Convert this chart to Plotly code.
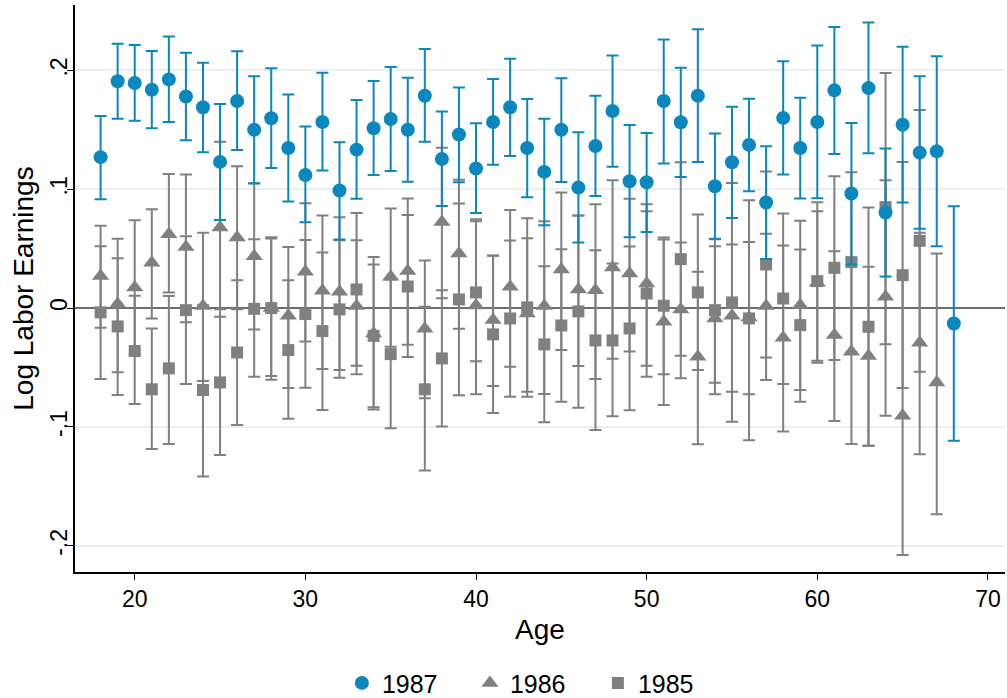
import plotly.graph_objects as go

# --- data (point estimate, lower CI, upper CI) ---
ages_1987 = list(range(18, 69))
est_1987 = [0.127, 0.1908, 0.1894, 0.1837, 0.1924, 0.178, 0.169, 0.123, 0.1742, 0.150,
            0.1597, 0.1347, 0.112, 0.1566, 0.0989, 0.1333, 0.1513, 0.1591, 0.150, 0.1787,
            0.1255, 0.146, 0.1174, 0.1566, 0.169, 0.1347, 0.1146, 0.150, 0.1014, 0.1364,
            0.1658, 0.1067, 0.1059, 0.1742, 0.1563, 0.1787, 0.1025, 0.1227, 0.1373, 0.0888,
            0.160, 0.1347, 0.1566, 0.1832, 0.0964, 0.1851, 0.0804, 0.1543, 0.1308, 0.1319,
            -0.0129]
lo_1987 = [0.0916, 0.1594, 0.1577, 0.1513, 0.1566, 0.1412, 0.1311, 0.0742, 0.133, 0.1048,
           0.1179, 0.0897, 0.0723, 0.1157, 0.0577, 0.0919, 0.112, 0.1154, 0.1064, 0.140,
           0.086, 0.1059, 0.080, 0.1207, 0.128, 0.0933, 0.0697, 0.1062, 0.0552, 0.0944,
           0.119, 0.0597, 0.0641, 0.1216, 0.1104, 0.123, 0.0583, 0.0759, 0.0983, 0.0414,
           0.1123, 0.0922, 0.0924, 0.1297, 0.0367, 0.1303, 0.0266, 0.0888, 0.0667, 0.0521,
           -0.1115]
hi_1987 = [0.1616, 0.2224, 0.2213, 0.2163, 0.2286, 0.2148, 0.2064, 0.1717, 0.216, 0.195,
           0.2017, 0.1798, 0.1527, 0.198, 0.1395, 0.175, 0.191, 0.2028, 0.1938, 0.2179,
           0.1655, 0.1855, 0.1555, 0.1927, 0.2098, 0.1759, 0.1594, 0.1933, 0.1479, 0.1787,
           0.2126, 0.154, 0.1474, 0.226, 0.2022, 0.2345, 0.147, 0.1695, 0.1762, 0.1361,
           0.2076, 0.177, 0.221, 0.2364, 0.1557, 0.2403, 0.1342, 0.2199, 0.195, 0.2118,
           0.0857]

ages_1986 = list(range(18, 68))
est_1986 = [0.027, 0.0034, 0.0174, 0.0381, 0.0622, 0.0515, 0.0017, 0.0678, 0.0594, 0.0437,
            0.0, -0.0064, 0.0305, 0.0146, 0.0137, 0.0017, -0.0213, 0.0263, 0.0313, -0.0174,
            0.0725, 0.046, 0.0022, -0.0101, 0.0179, -0.0045, 0.0017, 0.0325, 0.0157, 0.0151,
            0.0342, 0.0291, 0.0207, -0.0115, -0.0011, -0.0409, -0.0087, -0.0064, -0.008, 0.0017,
            -0.025, 0.0025, 0.0213, -0.0227, -0.0367, -0.0403, 0.0095, -0.0905, -0.0291, -0.0625]
lo_1986 = [-0.0165, -0.054, -0.039, -0.0087, 0.0132, -0.0118, -0.0613, -0.0073, -0.001, -0.0179,
           -0.0602, -0.0672, -0.028, -0.0513, -0.0521, -0.0557, -0.0835, -0.0325, -0.0308, -0.0759,
           0.0084, -0.0174, -0.0725, -0.0655, -0.0493, -0.0703, -0.0723, -0.0353, -0.0487, -0.0597,
           -0.0426, -0.0364, -0.0485, -0.0815, -0.0591, -0.1146, -0.0725, -0.0703, -0.0725, -0.0605,
           -0.1039, -0.0689, -0.046, -0.095, -0.1143, -0.1157, -0.0905, -0.2076, -0.123, -0.1734]
hi_1986 = [0.0692, 0.0583, 0.074, 0.0832, 0.1129, 0.1123, 0.0633, 0.140, 0.1193, 0.105,
           0.0597, 0.0515, 0.0882, 0.0779, 0.0765, 0.0571, 0.0431, 0.0838, 0.0922, 0.0401,
           0.135, 0.108, 0.0748, 0.0443, 0.0826, 0.0588, 0.0731, 0.0972, 0.0779, 0.0874,
           0.1076, 0.0919, 0.0874, 0.0577, 0.0552, 0.0305, 0.0521, 0.0535, 0.0557, 0.0625,
           0.0527, 0.0734, 0.089, 0.0479, 0.041, 0.0347, 0.1076, 0.0266, 0.0633, 0.046]

ages_1985 = list(range(18, 67))
est_1985 = [-0.0036, -0.0154, -0.0361, -0.0683, -0.0507, -0.0017, -0.0689, -0.0625, -0.0373, -0.0006,
            0.0, -0.0353, -0.005, -0.0193, -0.0011, 0.0157, -0.0233, -0.0387, 0.0182, -0.0683,
            -0.0423, 0.0073, 0.0132, -0.0221, -0.0087, 0.0006, -0.0305, -0.0146, -0.0028, -0.0272,
            -0.0272, -0.0171, 0.0123, 0.002, 0.0412, 0.0132, -0.0017, 0.0048, -0.0087, 0.0367,
            0.0081, -0.0143, 0.0227, 0.0339, 0.0387, -0.0157, 0.085, 0.0277, 0.0566]
lo_1985 = [-0.0597, -0.0731, -0.0807, -0.1185, -0.1143, -0.0639, -0.1417, -0.1235, -0.0983, -0.0577,
           -0.0571, -0.093, -0.067, -0.0857, -0.0585, -0.0485, -0.0852, -0.1011, -0.0412, -0.1367,
           -0.0997, -0.0734, -0.0448, -0.0882, -0.0745, -0.0745, -0.096, -0.0787, -0.0838, -0.1025,
           -0.091, -0.086, -0.0577, -0.0557, -0.0401, -0.0521, -0.0627, -0.0955, -0.1112, -0.0415,
           -0.0639, -0.0787, -0.0443, -0.0437, -0.037, -0.1157, -0.0305, -0.0672, -0.0535]
hi_1985 = [0.0521, 0.042, 0.0104, -0.0171, 0.0101, 0.0605, 0.0025, -0.001, 0.0235, 0.058,
           0.0585, 0.0235, 0.0574, 0.0468, 0.0571, 0.080, 0.0367, 0.024, 0.0784, 0.0011,
           0.0151, 0.088, 0.0731, 0.044, 0.0569, 0.0756, 0.0353, 0.0496, 0.078, 0.0487,
           0.0375, 0.0518, 0.0815, 0.0594, 0.1227, 0.0787, 0.058, 0.1053, 0.0908, 0.1149,
           0.0796, 0.0493, 0.0815, 0.1109, 0.1143, 0.0846, 0.1977, 0.123, 0.1667]

ytick_vals = [-0.2, -0.1, 0, 0.1, 0.2]
ytick_text = ['-.2', '-.1', '0', '.1', '.2']
xtick_vals = [20, 30, 40, 50, 60, 70]

BLUE = '#0a87bd'
GRAY = '#808080'
FONT = 'Arial, Liberation Sans, sans-serif'


def ci_trace(name, ages, est, lo, hi, color, symbol, size, rank):
    return go.Scatter(
        x=ages, y=est, name=name, mode='markers', legendrank=rank,
        marker=dict(color=color, symbol=symbol, size=size, line=dict(width=0)),
        error_y=dict(type='data', symmetric=False,
                     array=[h - e for h, e in zip(hi, est)],
                     arrayminus=[e - l for e, l in zip(est, lo)],
                     color=color, thickness=2, width=6),
    )


fig = go.Figure()
fig.add_trace(ci_trace('1986', ages_1986, est_1986, lo_1986, hi_1986, GRAY, 'triangle-up', 15, 2))
fig.add_trace(ci_trace('1985', ages_1985, est_1985, lo_1985, hi_1985, GRAY, 'square', 12, 3))
fig.add_trace(ci_trace('1987', ages_1987, est_1987, lo_1987, hi_1987, BLUE, 'circle', 14, 1))

fig.update_layout(
    width=1007, height=698,
    margin=dict(l=75, r=2, t=5, b=126, autoexpand=False),
    paper_bgcolor='white', plot_bgcolor='white',
    font=dict(family=FONT, size=23, color='black'),
    showlegend=True,
    legend=dict(orientation='h', x=0.287, xanchor='left', y=-0.196, yanchor='middle',
                font=dict(size=25), entrywidth=83, entrywidthmode='pixels'),
    xaxis=dict(range=[16.5, 71], tickvals=xtick_vals, ticks='outside', ticklen=6,
               tickcolor='black', showgrid=False, zeroline=False, showline=True,
               linecolor='black', linewidth=1.5, title=dict(text='Age', standoff=8)),
    yaxis=dict(range=[-0.222, 0.255], tickvals=ytick_vals, ticktext=ytick_text,
               tickangle=-90, ticks='outside', ticklen=6, tickcolor='black',
               ticklabelstandoff=-9,
               showgrid=True, gridcolor='#e8f0f2', gridwidth=1.5,
               zeroline=True, zerolinecolor='#6e6e6e', zerolinewidth=2,
               showline=True, linecolor='black', linewidth=1.5,
               title=dict(text='Log Labor Earnings', standoff=4)),
)

# drop the default page margin so the figure sits at the window's top-left
fig.write_html("out.html", config={'displayModeBar': False},
               post_script="document.body.style.margin='0';")
